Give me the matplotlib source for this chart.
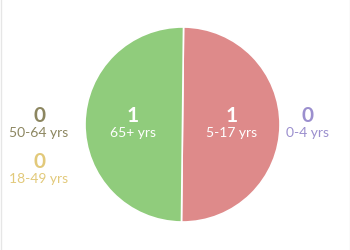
import matplotlib.pyplot as plt

plt.rcParams['font.family'] = ['Lato', 'DejaVu Sans']

# pie slices (drawn clockwise from top)
pie_labels = ["5-17 yrs", "65+ yrs"]
pie_values = [1, 1]
pie_colors = ["#de8a8a", "#90cc7c"]

# outside labels (zero-value groups)
side_labels = ["50-64 yrs", "18-49 yrs", "0-4 yrs"]
side_values = [0, 0, 0]
side_colors = ["#8c8660", "#e2c97a", "#9b8fce"]
side_pos = [(39, 116), (39, 162), (308, 116)]

W, H = 350, 250
fig = plt.figure(figsize=(3.5, 2.5), dpi=100)
ax = fig.add_axes([0, 0, 1, 1])
ax.set_xlim(0, W)
ax.set_ylim(H, 0)
ax.set_aspect('equal')
ax.axis('off')

cx, cy, r = 182.5, 124.5, 97.5
ax.pie(pie_values, colors=pie_colors, startangle=90.6, counterclock=False,
       center=(cx, cy), radius=r, frame=True,
       wedgeprops=dict(edgecolor='white', linewidth=1.2))
ax.set_xlim(0, W)
ax.set_ylim(H, 0)
ax.axis('off')

# labels inside the slices
in_pos = [(232, 116), (133, 116)]
for (x, y), lab, v in zip(in_pos, pie_labels, pie_values):
    ax.text(x, y, str(v), color='white', fontsize=15, fontweight='bold',
            ha='center', va='center')
    ax.text(x, y + 17, lab, color='white', fontsize=10, ha='center', va='center')

for (x, y), lab, v, c in zip(side_pos, side_labels, side_values, side_colors):
    ax.text(x, y, str(v), color=c, fontsize=15, fontweight='bold',
            ha='center', va='center')
    ax.text(x, y + 17, lab, color=c, fontsize=10, ha='center', va='center')

# faint frame edges
ax.axvline(0.5, color='#e6e6e6', lw=1)
ax.axvline(W - 0.5, color='#e6e6e6', lw=1)

fig.savefig("out.png", dpi=100)
